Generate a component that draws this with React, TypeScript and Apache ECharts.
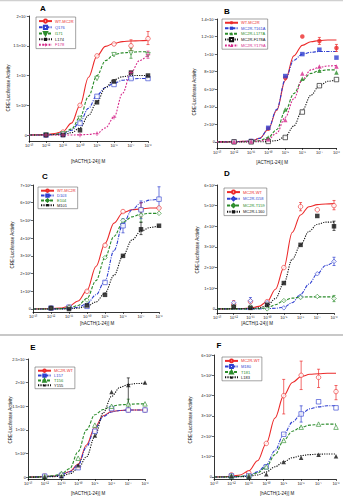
import React, { useEffect, useRef } from "react";
import * as echarts from "echarts";

const FONT = "Liberation Sans, Arial, sans-serif";

// log10 of molar concentration where doses were measured
const DOSE_EXP = [-12, -11, -10, -9, -8, -7, -6];
const FIT_EXP = [-13, -12.5, -12, -11.5, -11, -10.5, -10, -9.5, -9, -8.5, -8, -7.5, -7, -6.5, -6];
const X_TICK_LABELS = ["10⁻¹³", "10⁻¹²", "10⁻¹¹", "10⁻¹⁰", "10⁻⁹", "10⁻⁸", "10⁻⁷", "10⁻⁶"];

const RED = "#ec2b2b";
const BLUE = "#2f3fd0";
const GREEN = "#2c8c2c";
const BLACK = "#111111";
const MAGENTA = "#d62a8c";

// ---------- Panel A (units of 1e7) ----------
const A_Y_TICKS = [0, 0.5, 1, 1.5, 2];
const A_Y_LABELS = ["0", "5×10⁶", "1×10⁷", "1.5×10⁷", "2×10⁷"];
const A_NAMES = ["WT-MC2R", "Q176", "I171", "L174", "F178"];
const A_WT_PTS = [0.0, 0.05, 0.5, 1.33, 1.53, 1.5, 1.62];
const A_WT_FIT = [0, 0.005, 0.01, 0.025, 0.06, 0.2, 0.5, 0.97, 1.33, 1.49, 1.54, 1.57, 1.58, 1.585, 1.59];
const A_WT_ERR = [[-7, 1.42, 1.6], [-6, 1.52, 1.74]];
const A_B_PTS = [0.0, 0.01, 0.2, 0.65, 0.85, 0.95, 0.95];
const A_B_FIT = [0, 0, 0.005, 0.01, 0.02, 0.08, 0.22, 0.45, 0.67, 0.8, 0.87, 0.92, 0.94, 0.95, 0.95];
const A_G_PTS = [0.0, 0.02, 0.28, 0.95, 1.35, 1.38, 1.35];
const A_G_FIT = [0, 0, 0.005, 0.01, 0.03, 0.1, 0.3, 0.65, 1.0, 1.25, 1.35, 1.38, 1.39, 1.4, 1.4];
const A_G_ERR = [[-7, 1.29, 1.46]];
const A_K_PTS = [0.0, 0.0, 0.08, 0.55, 0.9, 1.05, 1.0];
const A_K_FIT = [0, 0, 0, 0.005, 0.01, 0.04, 0.12, 0.33, 0.56, 0.8, 0.93, 0.98, 1.0, 1.0, 1.0];
const A_M_PTS = [0.0, 0.0, 0.0, 0.02, 0.3, 1.05, 1.35];
const A_M_FIT = [0, 0, 0, 0, 0, 0, 0.005, 0.01, 0.03, 0.12, 0.3, 0.7, 1.05, 1.25, 1.35];
const A_M_ERR = [[-6, 1.29, 1.41]];

// ---------- Panel B (units of 1e6) ----------
const B_Y_TICKS = [0, 2, 4, 6, 8, 10, 12, 14];
const B_Y_LABELS = ["0", "2×10⁶", "4×10⁶", "6×10⁶", "8×10⁶", "1×10⁷", "1.2×10⁷", "1.4×10⁷"];
const B_NAMES = ["WT-MC2R", "MC2R-T161A", "MC2R-L177A", "MC2R-F178A", "MC2R-Y179A"];
const B_WT_PTS = [0, 0.1, 1.5, 7.3, 12.0, 11.5, 10.7];
const B_WT_FIT = [0, 0, 0.02, 0.05, 0.1, 0.4, 1.4, 3.6, 7.0, 9.8, 11.0, 11.4, 11.55, 11.6, 11.6];
const B_WT_ERR = [[-7, 11.1, 11.9], [-6, 10.3, 11.1]];
const B_B_PTS = [0, 0.1, 1.6, 7.5, 10.0, 10.5, 9.6];
const B_B_FIT = [0, 0, 0.02, 0.05, 0.1, 0.4, 1.45, 3.7, 7.1, 9.3, 10.0, 10.2, 10.3, 10.3, 10.3];
const B_G_PTS = [0, 0.05, 0.5, 3.7, 7.2, 8.1, 7.9];
const B_G_FIT = [0, 0, 0, 0.02, 0.05, 0.15, 0.5, 1.4, 3.5, 5.5, 7.0, 7.8, 8.1, 8.2, 8.2];
const B_K_PTS = [0, 0, 0.05, 0.5, 3.4, 6.4, 7.1];
const B_K_FIT = [0, 0, 0, 0, 0, 0.01, 0.03, 0.15, 0.6, 1.8, 3.6, 5.3, 6.4, 6.9, 7.1];
const B_M_PTS = [0, 0.05, 0.3, 2.5, 7.8, 8.6, 8.6];
const B_M_FIT = [0, 0, 0, 0.01, 0.03, 0.1, 0.3, 1.0, 2.8, 4.9, 7.1, 8.2, 8.5, 8.65, 8.7];

// ---------- Panel C (units of 1e6) ----------
const C_Y_TICKS = [0, 1, 2, 3, 4, 5, 6, 7];
const C_Y_LABELS = ["0", "1×10⁶", "2×10⁶", "3×10⁶", "4×10⁶", "5×10⁶", "6×10⁶", "7×10⁶"];
const C_NAMES = ["WT-MC2R", "D103", "E104", "M101"];
const C_WT_PTS = [0.05, 0.1, 1.0, 3.6, 5.5, 5.6, 5.7];
const C_WT_FIT = [0, 0.01, 0.02, 0.05, 0.15, 0.45, 1.05, 2.4, 3.7, 4.85, 5.45, 5.6, 5.65, 5.7, 5.7];
const C_WT_ERR = [[-7, 5.2, 6.0]];
const C_B_PTS = [0.05, 0.1, 0.15, 1.5, 4.7, 5.6, 6.2];
const C_B_FIT = [0, 0, 0, 0.01, 0.03, 0.1, 0.3, 0.8, 1.6, 3.3, 4.8, 5.6, 6.0, 6.15, 6.2];
const C_B_ERR = [[-8, 4.3, 5.1], [-7, 5.1, 6.1], [-6, 5.7, 6.9]];
const C_G_PTS = [0.05, 0.1, 0.5, 2.9, 5.0, 5.3, 5.4];
const C_G_FIT = [0, 0, 0, 0.02, 0.05, 0.2, 0.6, 1.6, 2.9, 4.1, 4.9, 5.2, 5.35, 5.4, 5.4];
const C_G_ERR = [[-7, 4.9, 5.7]];
const C_K_PTS = [0.05, 0.0, 0.2, 0.8, 3.0, 4.5, 4.7];
const C_K_FIT = [0, 0, 0, 0, 0.01, 0.05, 0.15, 0.4, 0.9, 1.9, 3.0, 3.9, 4.4, 4.6, 4.7];
const C_K_ERR = [[-7, 4.2, 4.9]];

// ---------- Panel D (units of 1e6) ----------
const D_Y_TICKS = [0, 1, 2, 3, 4, 5, 6];
const D_Y_LABELS = ["0", "1×10⁶", "2×10⁶", "3×10⁶", "4×10⁶", "5×10⁶", "6×10⁶"];
const D_NAMES = ["MC2R-WT", "MC2R-I158", "MC2R-T159", "MC2R-L160"];
const D_WT_PTS = [0.2, 0.35, 0.35, 2.0, 4.95, 4.8, 5.0];
const D_WT_FIT = [0, 0, 0.01, 0.02, 0.04, 0.12, 0.35, 0.95, 2.0, 3.7, 4.55, 4.95, 5.05, 5.08, 5.1];
const D_WT_ERR = [[-12, 0.05, 0.4], [-8, 4.75, 5.15], [-6, 4.8, 5.25]];
const D_B_PTS = [0.3, 0.4, 0.3, 0.05, 0.6, 1.7, 2.3];
const D_B_FIT = [0, 0, 0, 0, 0, 0, 0.01, 0.03, 0.08, 0.3, 0.7, 1.2, 1.7, 2.1, 2.3];
const D_B_ERR = [[-11, 0.25, 0.55], [-6, 2.1, 2.5]];
const D_G_PTS = [0.1, 0.1, 0.0, 0.4, 0.55, 0.6, 0.5];
const D_G_FIT = [0, 0, 0, 0, 0, 0.01, 0.05, 0.2, 0.4, 0.52, 0.57, 0.58, 0.58, 0.58, 0.58];
const D_G_ERR = [[-6, 0.35, 0.65]];
const D_K_PTS = [0.1, 0.05, 0.2, 1.25, 3.1, 4.5, 4.0];
const D_K_FIT = [0, 0, 0, 0, 0.01, 0.05, 0.15, 0.5, 1.25, 2.4, 3.1, 3.75, 4.1, 4.2, 4.2];
const D_K_ERR = [[-6, 3.8, 4.25]];

// ---------- Panel E (units of 1e7) ----------
const E_Y_TICKS = [0, 0.5, 1, 1.5, 2, 2.5];
const E_Y_LABELS = ["0", "5×10⁶", "1×10⁷", "1.5×10⁷", "2×10⁷", "2.5×10⁷"];
const E_NAMES = ["MC2R-WT", "L157", "T156", "Y155"];
const E_WT_PTS = [0.02, 0.04, 0.22, 1.0, 1.43, 1.42, 1.42];
const E_WT_FIT = [0, 0.005, 0.01, 0.02, 0.05, 0.12, 0.27, 0.68, 1.05, 1.3, 1.39, 1.41, 1.42, 1.42, 1.42];
const E_B_PTS = [0.02, 0.04, 0.2, 0.97, 1.45, 1.42, 1.42];
const E_B_FIT = [0, 0.005, 0.01, 0.02, 0.05, 0.11, 0.25, 0.64, 1.02, 1.28, 1.38, 1.41, 1.42, 1.42, 1.42];
const E_G_PTS = [0.01, 0.08, 0.4, 1.1, 1.5, 1.55, 1.55];
const E_G_FIT = [0, 0, 0.01, 0.03, 0.07, 0.18, 0.54, 1.0, 1.32, 1.43, 1.5, 1.53, 1.54, 1.55, 1.55];
const E_G_ERR = [[-7, 1.45, 1.65]];
const E_K_PTS = [0.0, 0.02, 0.25, 0.88, 1.8, 1.95, 2.0];
const E_K_FIT = [0, 0, 0.005, 0.01, 0.02, 0.07, 0.18, 0.43, 0.86, 1.36, 1.71, 1.9, 1.96, 1.98, 1.99];
const E_K_ERR = [[-7, 1.55, 2.1]];

// ---------- Panel F (units of 1e6) ----------
const F_Y_TICKS = [0, 1, 2, 3, 4, 5, 6];
const F_Y_LABELS = ["0", "1×10⁶", "2×10⁶", "3×10⁶", "4×10⁶", "5×10⁶", "6×10⁶"];
const F_NAMES = ["MC2R-WT", "M180", "T181", "L183"];
const F_WT_PTS = [0.1, 0.2, 1.65, 4.0, 5.0, 4.9, 4.2];
const F_WT_FIT = [0, 0.01, 0.03, 0.1, 0.3, 0.8, 1.65, 2.9, 4.0, 4.65, 4.94, 5.05, 5.08, 5.1, 5.1];
const F_WT_ERR = [[-9, 3.1, 4.8], [-8, 4.3, 5.7], [-7, 4.4, 5.3], [-6, 3.8, 4.5]];
const F_B_PTS = [0.05, 0.05, 0.5, 2.1, 3.1, 3.7, 3.4];
const F_B_FIT = [0, 0, 0, 0.02, 0.08, 0.25, 0.6, 1.3, 2.1, 2.7, 3.1, 3.35, 3.45, 3.5, 3.5];
const F_B_ERR = [[-8, 2.7, 3.5]];
const F_G_PTS = [0.05, 0.05, 0.5, 1.8, 2.45, 2.6, 2.45];
const F_G_FIT = [0, 0, 0.01, 0.03, 0.07, 0.2, 0.5, 1.1, 1.8, 2.25, 2.45, 2.55, 2.58, 2.6, 2.6];
const F_K_PTS = [0.05, 0.02, 0.13, 0.74, 0.95, 1.09, 1.02];
const F_K_FIT = [0, 0, 0, 0.01, 0.03, 0.1, 0.25, 0.5, 0.75, 0.95, 1.05, 1.1, 1.12, 1.13, 1.13];

const SYM = {
  plus: "path://M4,0H6V4H10V6H6V10H4V6H0V4H4Z",
  tdown: "path://M0,0L10,0L5,9Z",
};

type Spec = {
  label: string;
  color: string;
  dash: any;
  symbol: string;
  filled: boolean;
  pts: number[];
  fit: number[];
  err?: number[][];
};

type Panel = {
  letter: string;
  grid: { left: number; top: number; width: number; height: number };
  yMin: number;
  yMax: number;
  yTicks: number[];
  yLabels: string[];
  legend: { left: number; top: number; itemH: number; gap: number };
  letterPos: [number, number];
  xTitle: string;
  xTitlePos: [number, number];
  yTitlePos: [number, number];
  series: Spec[];
};

const SOLID = "solid";
const DASHED = [3, 1.5];
const DASHDOT = [3.5, 1.2, 1, 1.2];
const DOTTED = [1.2, 1.2];
const SHORT = [1.8, 1.4];

const PANELS: Panel[] = [
  {
    letter: "A",
    grid: { left: 29, top: 16, width: 119, height: 125 },
    yMin: -0.1, yMax: 2, yTicks: A_Y_TICKS, yLabels: A_Y_LABELS,
    legend: { left: 36, top: 17, itemH: 4, gap: 1 },
    letterPos: [43, 8], xTitle: "[hACTH(1-24)] M", xTitlePos: [88, 161], yTitlePos: [8, 88],
    series: [
      { label: A_NAMES[0], color: RED, dash: SOLID, symbol: "circle", filled: false, pts: A_WT_PTS, fit: A_WT_FIT, err: A_WT_ERR },
      { label: A_NAMES[1], color: BLUE, dash: DASHDOT, symbol: "rect", filled: false, pts: A_B_PTS, fit: A_B_FIT },
      { label: A_NAMES[2], color: GREEN, dash: DASHED, symbol: SYM.tdown, filled: false, pts: A_G_PTS, fit: A_G_FIT, err: A_G_ERR },
      { label: A_NAMES[3], color: BLACK, dash: DOTTED, symbol: "rect", filled: true, pts: A_K_PTS, fit: A_K_FIT },
      { label: A_NAMES[4], color: MAGENTA, dash: SHORT, symbol: SYM.plus, filled: true, pts: A_M_PTS, fit: A_M_FIT, err: A_M_ERR },
    ],
  },
  {
    letter: "B",
    grid: { left: 217, top: 19, width: 121, height: 129 },
    yMin: -0.7, yMax: 14, yTicks: B_Y_TICKS, yLabels: B_Y_LABELS,
    legend: { left: 222, top: 19, itemH: 4, gap: 1 },
    letterPos: [227, 11], xTitle: "[ACTH(1-24)] M", xTitlePos: [272, 162], yTitlePos: [194, 92],
    series: [
      { label: B_NAMES[0], color: RED, dash: SOLID, symbol: "circle", filled: true, pts: B_WT_PTS, fit: B_WT_FIT, err: B_WT_ERR },
      { label: B_NAMES[1], color: BLUE, dash: DASHDOT, symbol: "rect", filled: true, pts: B_B_PTS, fit: B_B_FIT },
      { label: B_NAMES[2], color: GREEN, dash: DASHED, symbol: "triangle", filled: true, pts: B_G_PTS, fit: B_G_FIT },
      { label: B_NAMES[3], color: BLACK, dash: DOTTED, symbol: "rect", filled: false, pts: B_K_PTS, fit: B_K_FIT },
      { label: B_NAMES[4], color: MAGENTA, dash: SHORT, symbol: "triangle", filled: true, pts: B_M_PTS, fit: B_M_FIT },
    ],
  },
  {
    letter: "C",
    grid: { left: 33, top: 185, width: 126, height: 127 },
    yMin: -0.17, yMax: 7, yTicks: C_Y_TICKS, yLabels: C_Y_LABELS,
    legend: { left: 38, top: 187, itemH: 3, gap: 0.5 },
    letterPos: [45, 176], xTitle: "[hACTH(1-24)] M", xTitlePos: [97, 323], yTitlePos: [12, 245],
    series: [
      { label: C_NAMES[0], color: RED, dash: SOLID, symbol: "circle", filled: false, pts: C_WT_PTS, fit: C_WT_FIT, err: C_WT_ERR },
      { label: C_NAMES[1], color: BLUE, dash: DASHDOT, symbol: "rect", filled: false, pts: C_B_PTS, fit: C_B_FIT, err: C_B_ERR },
      { label: C_NAMES[2], color: GREEN, dash: DASHED, symbol: "diamond", filled: false, pts: C_G_PTS, fit: C_G_FIT, err: C_G_ERR },
      { label: C_NAMES[3], color: BLACK, dash: DOTTED, symbol: "rect", filled: true, pts: C_K_PTS, fit: C_K_FIT, err: C_K_ERR },
    ],
  },
  {
    letter: "D",
    grid: { left: 217, top: 185, width: 117, height: 128 },
    yMin: -0.2, yMax: 6, yTicks: D_Y_TICKS, yLabels: D_Y_LABELS,
    legend: { left: 224, top: 188, itemH: 4, gap: 1.5 },
    letterPos: [227, 173], xTitle: "[ACTH(1-24)] M", xTitlePos: [257, 323], yTitlePos: [197, 250],
    series: [
      { label: D_NAMES[0], color: RED, dash: SOLID, symbol: "circle", filled: false, pts: D_WT_PTS, fit: D_WT_FIT, err: D_WT_ERR },
      { label: D_NAMES[1], color: BLUE, dash: DASHDOT, symbol: "diamond", filled: false, pts: D_B_PTS, fit: D_B_FIT, err: D_B_ERR },
      { label: D_NAMES[2], color: GREEN, dash: DASHED, symbol: "diamond", filled: false, pts: D_G_PTS, fit: D_G_FIT, err: D_G_ERR },
      { label: D_NAMES[3], color: BLACK, dash: DOTTED, symbol: "rect", filled: true, pts: D_K_PTS, fit: D_K_FIT, err: D_K_ERR },
    ],
  },
  {
    letter: "E",
    grid: { left: 28, top: 359, width: 117, height: 120 },
    yMin: -0.04, yMax: 2.5, yTicks: E_Y_TICKS, yLabels: E_Y_LABELS,
    legend: { left: 35, top: 367, itemH: 3, gap: 0.5 },
    letterPos: [33, 347], xTitle: "[hACTH(1-24)] M", xTitlePos: [88, 493], yTitlePos: [10, 420],
    series: [
      { label: E_NAMES[0], color: RED, dash: SOLID, symbol: "circle", filled: false, pts: E_WT_PTS, fit: E_WT_FIT },
      { label: E_NAMES[1], color: BLUE, dash: DASHDOT, symbol: "rect", filled: false, pts: E_B_PTS, fit: E_B_FIT },
      { label: E_NAMES[2], color: GREEN, dash: DASHED, symbol: "triangle", filled: false, pts: E_G_PTS, fit: E_G_FIT, err: E_G_ERR },
      { label: E_NAMES[3], color: BLACK, dash: DOTTED, symbol: "triangle", filled: true, pts: E_K_PTS, fit: E_K_FIT, err: E_K_ERR },
    ],
  },
  {
    letter: "F",
    grid: { left: 214, top: 355, width: 122, height: 124 },
    yMin: -0.1, yMax: 6, yTicks: F_Y_TICKS, yLabels: F_Y_LABELS,
    legend: { left: 222, top: 357, itemH: 3.5, gap: 0.8 },
    letterPos: [219, 345], xTitle: "[hACTH(1-24)] M", xTitlePos: [277, 493], yTitlePos: [190, 420],
    series: [
      { label: F_NAMES[0], color: RED, dash: SOLID, symbol: "circle", filled: false, pts: F_WT_PTS, fit: F_WT_FIT, err: F_WT_ERR },
      { label: F_NAMES[1], color: BLUE, dash: DASHDOT, symbol: "rect", filled: false, pts: F_B_PTS, fit: F_B_FIT, err: F_B_ERR },
      { label: F_NAMES[2], color: GREEN, dash: DASHED, symbol: "triangle", filled: false, pts: F_G_PTS, fit: F_G_FIT },
      { label: F_NAMES[3], color: BLACK, dash: DOTTED, symbol: "triangle", filled: true, pts: F_K_PTS, fit: F_K_FIT },
    ],
  },
];

function xLabel(v: number) {
  const e = Math.round(Math.log10(v));
  return X_TICK_LABELS[e + 13] ?? "";
}

function buildOption() {
  const grid: any[] = [];
  const xAxis: any[] = [];
  const yAxis: any[] = [];
  const legend: any[] = [];
  const series: any[] = [];
  const graphic: any[] = [];

  PANELS.forEach((p, pi) => {
    grid.push({ ...p.grid, containLabel: false });
    xAxis.push({
      type: "log",
      logBase: 10,
      gridIndex: pi,
      min: 1e-13,
      max: 1e-6,
      axisLine: { show: true, onZero: false, lineStyle: { color: "#000", width: 0.8 } },
      axisTick: { show: true, length: 2, lineStyle: { color: "#000", width: 0.6 } },
      axisLabel: { fontSize: 4, margin: 2, color: "#111", fontFamily: FONT, formatter: xLabel, showMinLabel: true, showMaxLabel: true },
      splitLine: { show: false },
      minorTick: { show: false },
    });
    yAxis.push({
      type: "value",
      gridIndex: pi,
      min: p.yMin,
      max: p.yMax,
      axisLine: { show: true, onZero: false, lineStyle: { color: "#000", width: 0.8 } },
      axisTick: { show: true, length: 2, customValues: p.yTicks, lineStyle: { color: "#000", width: 0.6 } },
      axisLabel: {
        fontSize: 4,
        margin: 2,
        color: "#111",
        fontFamily: FONT,
        customValues: p.yTicks,
        formatter: (v: number) => {
          const i = p.yTicks.findIndex((t) => Math.abs(t - v) < 1e-9);
          return i >= 0 ? p.yLabels[i] : "";
        },
      },
      splitLine: { show: false },
    });

    const legendData: any[] = [];
    p.series.forEach((s) => {
      const name = p.letter + "|" + s.label;
      legendData.push({ name, textStyle: { color: s.color } });
      const item = {
        color: s.filled ? s.color : "#fff",
        borderColor: s.color,
        borderWidth: s.filled ? 0 : 0.8,
      };
      series.push({
        type: "line",
        name,
        xAxisIndex: pi,
        yAxisIndex: pi,
        data: FIT_EXP.map((e, k) => [Math.pow(10, e), s.fit[k]]),
        smooth: 0.35,
        smoothMonotone: "x",
        showSymbol: false,
        symbol: s.symbol,
        symbolSize: 4.5,
        lineStyle: { color: s.color, width: 1.1, type: s.dash },
        itemStyle: item,
        z: 2,
        silent: true,
      });
      series.push({
        type: "scatter",
        name: name + " data",
        xAxisIndex: pi,
        yAxisIndex: pi,
        data: DOSE_EXP.map((e, k) => [Math.pow(10, e), s.pts[k]]),
        symbol: s.symbol,
        symbolSize: 4.5,
        itemStyle: item,
        z: 4,
        silent: true,
      });
      if (s.err) {
        const color = s.color;
        series.push({
          type: "custom",
          name: name + " err",
          xAxisIndex: pi,
          yAxisIndex: pi,
          data: s.err.map(([e, lo, hi]) => [Math.pow(10, e), lo, hi]),
          encode: { x: 0, y: [1, 2] },
          silent: true,
          z: 3,
          renderItem: (_params: any, api: any) => {
            const x = api.value(0);
            const a = api.coord([x, api.value(1)]);
            const b = api.coord([x, api.value(2)]);
            const st = { stroke: color, lineWidth: 0.7 };
            return {
              type: "group",
              children: [
                { type: "line", shape: { x1: a[0], y1: a[1], x2: b[0], y2: b[1] }, style: st },
                { type: "line", shape: { x1: a[0] - 1.5, y1: a[1], x2: a[0] + 1.5, y2: a[1] }, style: st },
                { type: "line", shape: { x1: b[0] - 1.5, y1: b[1], x2: b[0] + 1.5, y2: b[1] }, style: st },
              ],
            };
          },
        });
      }
    });

    legend.push({
      left: p.legend.left,
      top: p.legend.top,
      orient: "vertical",
      data: legendData,
      selectedMode: false,
      borderColor: "#666",
      borderWidth: 0.6,
      padding: [1.5, 2, 1.5, 2],
      itemGap: p.legend.gap,
      itemWidth: 13,
      itemHeight: p.legend.itemH,
      formatter: (n: string) => n.split("|")[1],
      textStyle: { fontSize: 4, fontFamily: FONT, padding: [0, 0, 0, -2], lineHeight: p.legend.itemH + 0.5 },
    });

    graphic.push({
      type: "text",
      x: p.letterPos[0],
      y: p.letterPos[1],
      style: { text: p.letter, fontSize: 8, fontWeight: "bold", fontFamily: FONT, fill: "#000", align: "center", verticalAlign: "middle" },
    });
    graphic.push({
      type: "text",
      x: p.xTitlePos[0],
      y: p.xTitlePos[1],
      style: { text: p.xTitle, fontSize: 4.5, fontFamily: FONT, fill: "#111", align: "center", verticalAlign: "middle" },
    });
    graphic.push({
      type: "text",
      x: p.yTitlePos[0],
      y: p.yTitlePos[1],
      rotation: Math.PI / 2,
      style: { text: "CRE-Luciferase Activity", fontSize: 4.5, fontFamily: FONT, fill: "#111", align: "center", verticalAlign: "middle" },
    });
  });

  graphic.push({
    type: "line",
    shape: { x1: 0, y1: 335, x2: 343, y2: 335 },
    style: { stroke: "#c8c8c8", lineWidth: 2 },
  });
  graphic.push({
    type: "line",
    shape: { x1: 0, y1: 0.5, x2: 343, y2: 0.5 },
    style: { stroke: "#d0d0d0", lineWidth: 1.5 },
  });

  return {
    animation: false,
    backgroundColor: "#fff",
    textStyle: { fontFamily: FONT },
    grid,
    xAxis,
    yAxis,
    legend,
    series,
    graphic,
  };
}

export default function App() {
  const ref = useRef<HTMLDivElement>(null);
  useEffect(() => {
    if (!ref.current) return;
    const chart = echarts.init(ref.current, undefined, { renderer: "svg" });
    chart.setOption(buildOption() as any);
    return () => chart.dispose();
  }, []);
  return <div ref={ref} style={{ width: 343, height: 500, position: "absolute", left: 0, top: 0 }} />;
}
